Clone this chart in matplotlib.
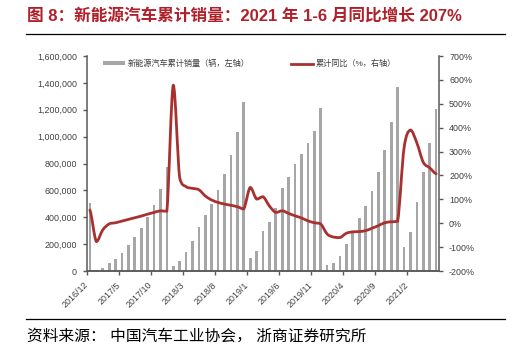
import numpy as np
import pandas as pd
import matplotlib
matplotlib.use('Agg')
import matplotlib.pyplot as plt
from matplotlib.path import Path
from matplotlib.patches import PathPatch, Patch
from matplotlib.lines import Line2D
from matplotlib.ticker import FuncFormatter

plt.rcParams['font.family'] = ['Liberation Sans', 'Noto Sans CJK SC', 'DejaVu Sans']

# Monthly categories, 2016/12 .. 2021/6
months = [f'{d.year}/{d.month}' for d in pd.date_range('2016-12-01', '2021-06-01', freq='MS')]

# Cumulative NEV sales (units, left axis)
sales = [507000, 10000, 24000, 56000, 88000, 136000, 195000, 253000, 322000, 400000,
         490000, 609000, 777000, 40000, 72000, 141000, 223000, 330000, 414000, 496000,
         602000, 722000, 862000, 1032000, 1260000, 94000, 149000, 298000, 362000, 466000,
         616000, 700000, 794000, 874000, 950000, 1045000, 1210000, 45000, 57000, 114000,
         203000, 287000, 393000, 486000, 598000, 735000, 903000, 1110000, 1367000, 181000,
         288000, 514000, 734000, 953000, 1208000]

# Cumulative YoY growth (%, right axis)
yoy = [55, -77, -28, -3, 2, 9, 16, 23, 30, 38,
       45, 52, 50, 578, 190, 153, 146, 140, 114, 97,
       87, 80, 75, 69, 60, 150, 101, 111, 72, 45,
       52, 41, 31, 22, 10, 2, -3, -45, -58, -60,
       -42, -36, -35, -31, -21, -10, 2, 6, 8, 315,
       390, 336, 255, 232, 207]

title = '图 8：新能源汽车累计销量：2021 年 1-6 月同比增长 207%'
source = '资料来源： 中国汽车工业协会， 浙商证券研究所'

bar_color = '#A6A6A6'
line_color = '#A8312F'
text_color = '#404040'
axis_color = '#595959'


def smooth_path(x, y):
    # Catmull-Rom segments as cubic Beziers, control points kept inside each segment's range
    x = np.asarray(x, float)
    y = np.asarray(y, float)
    n = len(x)
    verts = [(x[0], y[0])]
    codes = [Path.MOVETO]
    for i in range(n - 1):
        i0 = max(i - 1, 0)
        i3 = min(i + 2, n - 1)
        lo, hi = min(y[i], y[i + 1]), max(y[i], y[i + 1])
        c1y = np.clip(y[i] + (y[i + 1] - y[i0]) / 6, lo, hi)
        c2y = np.clip(y[i + 1] - (y[i3] - y[i]) / 6, lo, hi)
        c1 = (x[i] + (x[i + 1] - x[i]) / 3, c1y)
        c2 = (x[i + 1] - (x[i + 1] - x[i]) / 3, c2y)
        verts += [c1, c2, (x[i + 1], y[i + 1])]
        codes += [Path.CURVE4] * 3
    return Path(verts, codes)


fig = plt.figure(figsize=(5.32, 3.47), dpi=100)
ax1 = fig.add_axes([0.163, 0.219, 0.6628, 0.6196])
ax2 = ax1.twinx()

pos = np.arange(len(months))
ax1.bar(pos, sales, width=0.42, color=bar_color, zorder=2)
ax1.set_xlim(-0.5, len(months) - 0.5)
ax1.set_ylim(0, 1600000)
ax1.set_yticks(np.arange(0, 1600001, 200000))
ax1.yaxis.set_major_formatter(FuncFormatter(lambda v, p: f'{int(v):,}'))

ax2.add_patch(PathPatch(smooth_path(pos, yoy), facecolor='none', edgecolor=line_color,
                        linewidth=2.0, capstyle='round', joinstyle='round', zorder=3))
ax2.set_ylim(-200, 700)
ax2.set_yticks(np.arange(-200, 701, 100))
ax2.yaxis.set_major_formatter(FuncFormatter(lambda v, p: f'{int(v)}%'))

tick_idx = np.arange(0, len(months), 5)
ax1.set_xticks(tick_idx - 0.5)
ax1.set_xticklabels([months[i] for i in tick_idx], rotation=45, ha='right',
                    va='center', rotation_mode='anchor')

for ax in (ax1, ax2):
    ax.spines['top'].set_visible(False)
    for side in ('left', 'right', 'bottom'):
        ax.spines[side].set_color(axis_color)
        ax.spines[side].set_linewidth(1.1)
    ax.tick_params(axis='both', labelsize=6.4, colors=axis_color, labelcolor=text_color,
                   length=3, width=1, direction='out')
ax1.tick_params(axis='y', pad=4)
ax1.tick_params(axis='x', pad=6)
ax2.tick_params(axis='y', pad=4)
ax2.spines['left'].set_visible(False)
ax1.spines['right'].set_visible(False)

handles = [Patch(facecolor=bar_color, edgecolor='none'),
           Line2D([0], [0], color=line_color, linewidth=2.0)]
labels = ['新能源汽车累计销量（辆，左轴）', '累计同比（%，右轴）']
fig.legend(handles, labels, loc='center left', bbox_to_anchor=(103 / 532, 1 - 64 / 347),
           ncol=2, frameon=False, fontsize=5.9, handlelength=2.7, handleheight=0.35,
           handletextpad=0.35, columnspacing=5.0, borderpad=0, borderaxespad=0,
           labelcolor=text_color)

# Title, rules and source note
fig.text(27 / 532, 1 - 17 / 347, title, fontsize=12, fontweight='bold', color='#B0202A',
         ha='left', va='center')
fig.add_artist(Line2D([26 / 532, 505 / 532], [1 - 33.5 / 347] * 2, color='black', linewidth=0.9))
fig.add_artist(Line2D([26 / 532, 505 / 532], [1 - 319 / 347] * 2, color='black', linewidth=0.9))
fig.text(27 / 532, 1 - 336 / 347, source, fontsize=11.3, color='black', ha='left', va='center')

fig.savefig('out.png', dpi=100)
